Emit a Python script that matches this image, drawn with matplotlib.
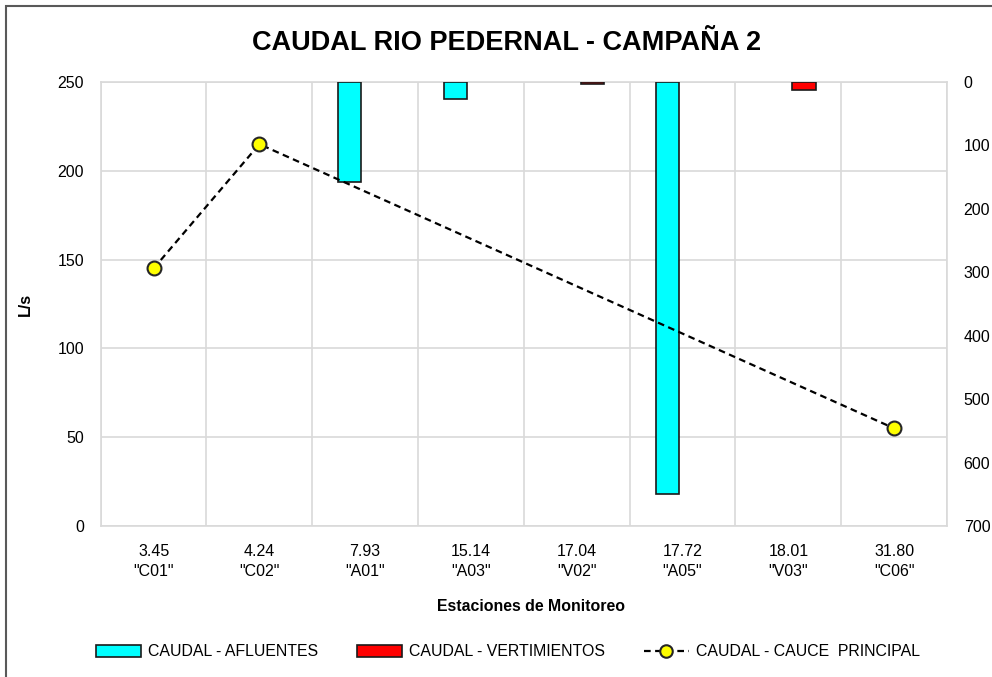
import matplotlib
matplotlib.use('Agg')
import matplotlib.pyplot as plt
from matplotlib.patches import Rectangle, Patch
from matplotlib.lines import Line2D
import numpy as np

plt.rcParams['font.family'] = ['Liberation Sans', 'DejaVu Sans']

# data
km = ['3.45', '4.24', '7.93', '15.14', '17.04', '17.72', '18.01', '31.80']
stations = ['C01', 'C02', 'A01', 'A03', 'V02', 'A05', 'V03', 'C06']
afluentes = [0, 0, 158, 27, 0, 650, 0, 0]        # right axis (inverted)
vertimientos = [0, 0, 0, 0, 3, 0, 12, 0]        # right axis (inverted)
cauce = [145, 215, np.nan, np.nan, np.nan, np.nan, np.nan, 55]   # left axis

grid_col = '#d9d9d9'
x = np.arange(len(stations)) + 0.5

fig = plt.figure(figsize=(9.92, 6.77), dpi=100)
pos = [100.7/992, 1 - 526/677, (947 - 100.7)/992, (526 - 82)/677]

ax = fig.add_axes(pos)
ax.set_xlim(0, len(stations))
ax.set_ylim(0, 250)
ax.set_yticks(np.arange(0, 251, 50))
ax.set_xticks(np.arange(0, len(stations) + 1), minor=False)
ax.set_xticklabels([])
ax.set_xticks(x, minor=True)
ax.set_xticklabels([k + '\n"' + s + '"' for k, s in zip(km, stations)], minor=True,
                   fontsize=11.5, linespacing=1.4)
ax.grid(True, which='major', color=grid_col, lw=1.2)
ax.tick_params(which='both', length=0)
ax.tick_params(axis='y', labelsize=11.5, pad=12)
ax.tick_params(axis='x', which='minor', pad=13)
for s in ax.spines.values():
    s.set_color(grid_col)
    s.set_linewidth(1.2)
ax.set_ylabel('L/s', fontsize=11.5, fontweight='bold')
ax.yaxis.set_label_coords(-0.08, 0.5)
ax.set_xlabel('Estaciones de Monitoreo', fontsize=11.4, fontweight='bold')
ax.xaxis.set_label_coords(0.508, -0.165)
fig.text(507/992, 1 - 43/677, 'CAUDAL RIO PEDERNAL - CAMPAÑA 2', fontsize=19.5,
         fontweight='bold', ha='center', va='center')

# bars on inverted secondary axis
ax2 = ax.twinx()
ax2.set_ylim(700, 0)
ax2.set_yticks(np.arange(0, 701, 100))
ax2.tick_params(length=0, labelsize=11.5, pad=12)
for s in ax2.spines.values():
    s.set_visible(False)
w = 0.22
af = np.array(afluentes, dtype=float)
ve = np.array(vertimientos, dtype=float)
m = af > 0
ax2.bar(x[m] - 0.145, af[m], width=w, color='#00ffff', edgecolor='#1a1a1a', lw=1.2)
m = ve > 0
ax2.bar(x[m] + 0.147, ve[m], width=w, color='#ff0000', edgecolor='#1a1a1a', lw=1.2)

# line on top
ax3 = ax.twinx()
ax3.set_ylim(0, 250)
ax3.axis('off')
c = np.array(cauce)
ok = ~np.isnan(c)
ax3.plot(x[ok], c[ok], color='black', ls=(0, (3, 2)), lw=1.6,
         marker='o', ms=10, mfc='#ffff00', mec='#262626', mew=1.5)

handles = [
    Patch(facecolor='#00ffff', edgecolor='#1a1a1a', lw=1.2, label='CAUDAL - AFLUENTES'),
    Patch(facecolor='#ff0000', edgecolor='#1a1a1a', lw=1.2, label='CAUDAL - VERTIMIENTOS'),
    Line2D([], [], color='black', ls=(0, (3, 2)), lw=1.6, marker='o', ms=9,
           mfc='#ffff00', mec='#262626', mew=1.5, label='CAUDAL - CAUCE  PRINCIPAL'),
]
fig.legend(handles=handles, loc='center', bbox_to_anchor=(508/992, 1 - 652/677),
           ncol=3, frameon=False, fontsize=11.4, handlelength=2.85, handleheight=0.75,
           handletextpad=0.44, columnspacing=2.45)

# outer frame (only left/top visible in crop)
fig.patches.append(Rectangle((6/992, -0.1), 1.2, 1 - 6/677 + 0.1, transform=fig.transFigure,
                             fill=False, edgecolor='#595959', lw=1.5))

fig.savefig('out.png', dpi=100)
